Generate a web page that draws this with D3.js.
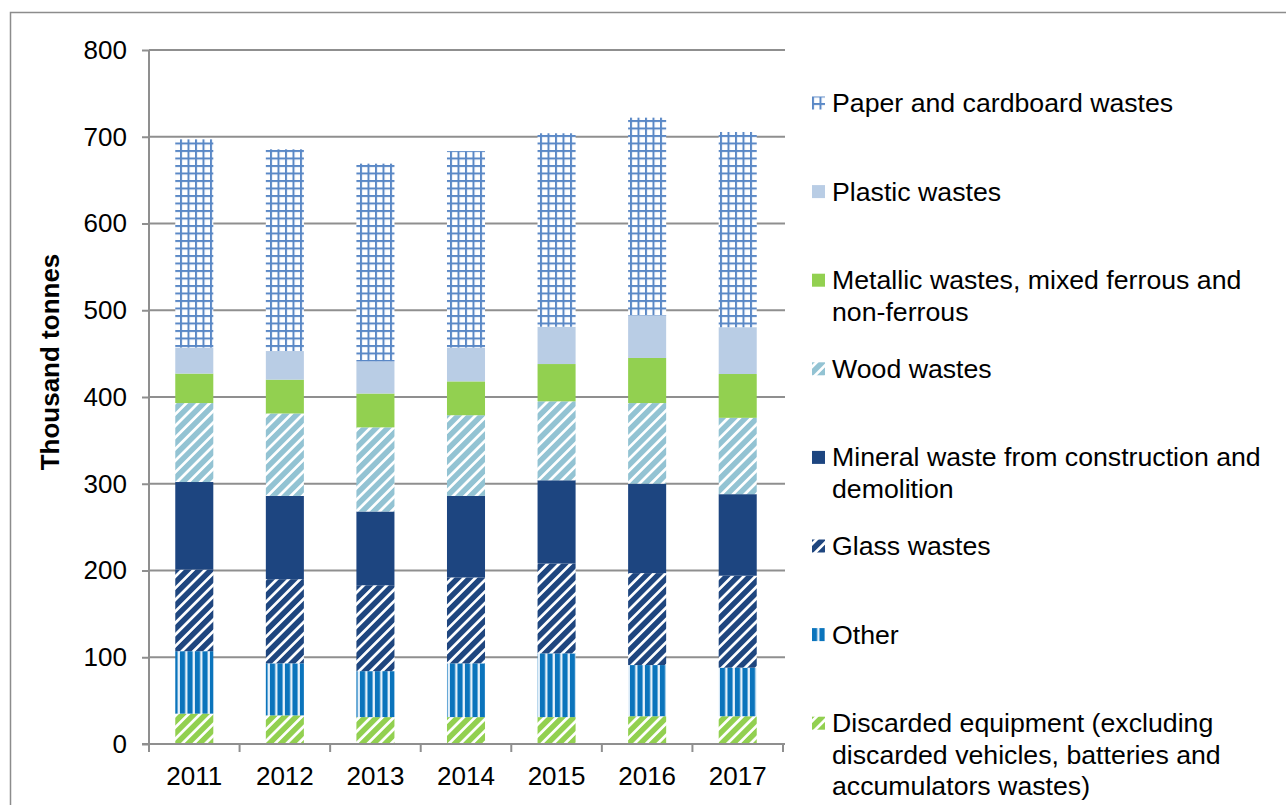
<!DOCTYPE html>
<html>
<head>
<meta charset="utf-8">
<script src="https://cdn.jsdelivr.net/npm/d3@7"></script>
<style>
  html, body { margin: 0; padding: 0; background: #fff; }
  svg { display: block; font-family: "Liberation Sans", Arial, sans-serif; }
</style>
</head>
<body>
<svg id="chart" width="1286" height="805"></svg>
<script>
// Waste by category, thousand tonnes
const years = ["2011", "2012", "2013", "2014", "2015", "2016", "2017"];

const discardedEquipment = [35, 33, 31, 31, 31, 32, 32];
const other              = [72, 60, 53, 62, 73.5, 59, 56];
const glassWastes        = [94, 97, 99, 99, 103.5, 106, 106];
const mineralWaste       = [101, 96, 85, 94, 96, 103, 94];
const woodWastes         = [91, 95, 97, 93, 91, 93, 88];
const metallicWastes     = [34, 39, 39, 39, 43, 52, 50.5];
const plasticWastes      = [30, 33, 37, 39, 43, 49, 54];
const paperWastes        = [240, 232.5, 228, 226.5, 223, 228, 225];

const yTicks = [0, 100, 200, 300, 400, 500, 600, 700, 800];

// Series in stacking order (bottom to top)
const series = [
  { key: "discarded", values: discardedEquipment, label: ["Discarded equipment (excluding", "discarded vehicles, batteries and", "accumulators wastes)"] },
  { key: "other",     values: other,              label: ["Other"] },
  { key: "glass",     values: glassWastes,        label: ["Glass wastes"] },
  { key: "mineral",   values: mineralWaste,       label: ["Mineral waste from construction and", "demolition"] },
  { key: "wood",      values: woodWastes,         label: ["Wood wastes"] },
  { key: "metallic",  values: metallicWastes,     label: ["Metallic wastes, mixed ferrous and", "non-ferrous"] },
  { key: "plastic",   values: plasticWastes,      label: ["Plastic wastes"] },
  { key: "paper",     values: paperWastes,        label: ["Paper and cardboard wastes"] }
];

const svg = d3.select("#chart");
const fontSize = 26;
const legendFontSize = 26.7;

// ---- fill patterns ----
const defs = svg.append("defs");

function stripes(id, color, angle, period, white) {
  const p = defs.append("pattern")
    .attr("id", id)
    .attr("patternUnits", "userSpaceOnUse")
    .attr("width", period).attr("height", period)
    .attr("patternTransform", `rotate(${angle})`);
  p.append("rect").attr("width", period).attr("height", period).attr("fill", color);
  p.append("rect").attr("x", period - white).attr("width", white).attr("height", period).attr("fill", "#fff");
}
stripes("pat-wood", "#93c3d3", 45, 8.2, 2.7);
stripes("pat-glass", "#1f467f", 45, 8.2, 2.7);
stripes("pat-discarded", "#92d050", 45, 8.2, 2.7);

// vertical stripes
(function () {
  const w = 7.5;
  const p = defs.append("pattern")
    .attr("id", "pat-other")
    .attr("patternUnits", "userSpaceOnUse")
    .attr("width", w).attr("height", 10);
  p.append("rect").attr("width", w).attr("height", 10).attr("fill", "#0b74bc");
  p.append("rect").attr("x", w - 2.4).attr("width", 2.4).attr("height", 10).attr("fill", "#cfe6f6");
  p.append("rect").attr("x", w - 1.6).attr("width", 0.8).attr("height", 10).attr("fill", "#fff");
})();

// small grid
(function () {
  const w = 7.5;
  const p = defs.append("pattern")
    .attr("id", "pat-paper")
    .attr("patternUnits", "userSpaceOnUse")
    .attr("width", w).attr("height", w);
  p.append("rect").attr("width", w).attr("height", w).attr("fill", "#fff");
  p.append("rect").attr("x", 0).attr("width", 2).attr("height", w).attr("fill", "#5a88c6");
  p.append("rect").attr("y", 0).attr("width", w).attr("height", 2).attr("fill", "#5a88c6");
})();

const fills = {
  discarded: "url(#pat-discarded)",
  other: "url(#pat-other)",
  glass: "url(#pat-glass)",
  mineral: "#1d4580",
  wood: "url(#pat-wood)",
  metallic: "#92d050",
  plastic: "#b9cde5",
  paper: "url(#pat-paper)"
};

// ---- outer frame ----
svg.append("rect")
  .attr("x", 10.5).attr("y", 12.5)
  .attr("width", 1300).attr("height", 820)
  .attr("fill", "none").attr("stroke", "#8c8c8c").attr("stroke-width", 1.5);

// ---- scales ----
const plot = { left: 149, right: 783, top: 50, bottom: 744 };

const x = d3.scaleBand()
  .domain(years)
  .range([plot.left, plot.right])
  .paddingInner(0.58)
  .paddingOuter(0.29);

const y = d3.scaleLinear()
  .domain([0, 800])
  .range([plot.bottom, plot.top]);

const gridColor = "#8f8f8f";

// horizontal gridlines
svg.append("g")
  .selectAll("line")
  .data(yTicks.filter(d => d > 0))
  .join("line")
  .attr("x1", plot.left).attr("x2", plot.right + 2)
  .attr("y1", d => y(d)).attr("y2", d => y(d))
  .attr("stroke", gridColor).attr("stroke-width", 2);

// ---- stacked bars ----
const table = years.map((yr, i) => {
  const row = { year: yr };
  series.forEach(s => { row[s.key] = s.values[i]; });
  return row;
});
const stack = d3.stack().keys(series.map(s => s.key));
const stacked = stack(table);

svg.append("g")
  .selectAll("g")
  .data(stacked)
  .join("g")
  .attr("fill", d => fills[d.key])
  .selectAll("rect")
  .data(d => d)
  .join("rect")
  .attr("x", d => x(d.data.year))
  .attr("width", x.bandwidth())
  .attr("y", d => y(d[1]))
  .attr("height", d => y(d[0]) - y(d[1]));

// ---- y axis ----
const yAxis = svg.append("g")
  .attr("transform", `translate(${plot.left},0)`)
  .call(d3.axisLeft(y).tickValues(yTicks).tickSize(7).tickPadding(15).tickSizeOuter(0));
yAxis.select(".domain").attr("stroke", gridColor).attr("stroke-width", 2)
  .attr("d", `M0,${plot.bottom + 8}V${plot.top}`);
yAxis.selectAll(".tick line").attr("stroke", gridColor).attr("stroke-width", 2);
yAxis.selectAll(".tick text")
  .attr("fill", "#000")
  .style("font-size", fontSize + "px")
  .style("font-family", "'Liberation Sans', Arial, sans-serif");

// ---- x axis ----
const xAxis = svg.append("g")
  .attr("transform", `translate(0,${plot.bottom})`);
xAxis.append("line")
  .attr("x1", plot.left - 7).attr("x2", plot.right + 2)
  .attr("stroke", gridColor).attr("stroke-width", 2);
const step = x.step();
const boundaries = d3.range(years.length + 1).map(i => plot.left + i * step);
xAxis.selectAll("line.tk")
  .data(boundaries.slice(1))
  .join("line")
  .attr("class", "tk")
  .attr("x1", d => d).attr("x2", d => d)
  .attr("y1", 0).attr("y2", 8)
  .attr("stroke", gridColor).attr("stroke-width", 2);
xAxis.selectAll("text")
  .data(years)
  .join("text")
  .attr("x", d => x(d) + x.bandwidth() / 2)
  .attr("y", 41)
  .attr("text-anchor", "middle")
  .attr("fill", "#000")
  .style("font-size", fontSize + "px")
  .text(d => d);

// ---- y axis title ----
svg.append("text")
  .attr("transform", "translate(59,362) rotate(-90)")
  .attr("text-anchor", "middle")
  .attr("font-weight", "bold")
  .attr("fill", "#000")
  .style("font-size", fontSize + "px")
  .text("Thousand tonnes");

// ---- legend (top to bottom: reverse stack order) ----
const legendItems = series.slice().reverse();
const legend = svg.append("g");
const legendTop = 103, legendStep = 88.6, lineHeight = 31.5;

const item = legend.selectAll("g")
  .data(legendItems)
  .join("g")
  .attr("transform", (d, i) => `translate(812,${legendTop + i * legendStep})`);

item.append("rect")
  .attr("x", 0).attr("y", -6.5)
  .attr("width", 13).attr("height", 13)
  .attr("fill", d => fills[d.key]);

item.append("text")
  .attr("x", 20)
  .attr("fill", "#000")
  .style("font-size", legendFontSize + "px")
  .selectAll("tspan")
  .data(d => d.label)
  .join("tspan")
  .attr("x", 20)
  .attr("y", (d, i) => 9 + i * lineHeight)
  .text(d => d);
</script>
</body>
</html>
